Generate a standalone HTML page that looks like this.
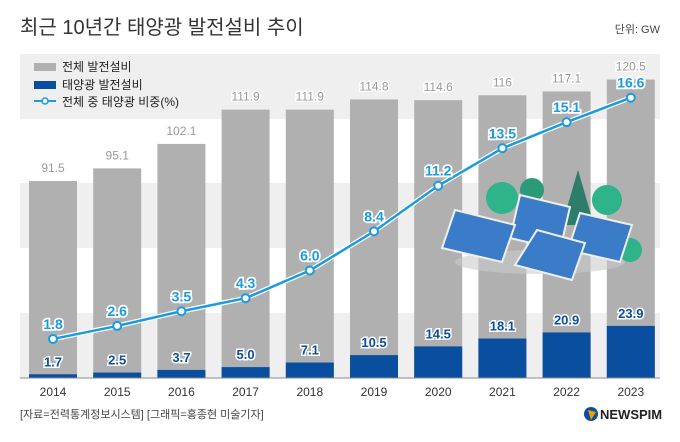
<!DOCTYPE html>
<html><head><meta charset="utf-8"><style>
body{margin:0;background:#fff;}
svg{display:block;font-family:"Liberation Sans","Noto Sans CJK KR",sans-serif;}
</style></head><body>
<svg id="c" width="680" height="442" viewBox="0 0 680 442">
<text x="20" y="34" font-size="20" fill="#333">최근 10년간 태양광 발전설비 추이</text>
<text x="660" y="33" font-size="11" fill="#444" text-anchor="end">단위: GW</text>
<g>
<rect x="20" y="54" width="640" height="65" fill="#efefef"/>
<rect x="20" y="183" width="640" height="65" fill="#efefef"/>
<rect x="20" y="313" width="640" height="65" fill="#efefef"/>
</g>
<g id="bars"></g>
<g id="illus">
<ellipse cx="540" cy="262" rx="85" ry="12" fill="#ccc" opacity="0.6"/>
<circle cx="502" cy="198" r="16" fill="#2fb38b"/><circle cx="532" cy="190" r="12" fill="#2a9a78"/>
<polygon points="578,170 562,225 594,225" fill="#2e7c6a"/>
<circle cx="607" cy="200" r="15" fill="#2fb38b"/><circle cx="630" cy="250" r="12" fill="#2fb38b"/>
<polygon points="520,195 570,207 560,250 510,238" fill="#3a7cc8" stroke="#eee" stroke-width="2"/>
<polygon points="455,210 515,225 502,262 442,248" fill="#3a7cc8" stroke="#eee" stroke-width="2"/>
<polygon points="580,213 632,225 620,262 568,250" fill="#3a7cc8" stroke="#eee" stroke-width="2"/>
<polygon points="537,230 585,243 572,280 515,265" fill="#3a7cc8" stroke="#eee" stroke-width="2"/>
</g>
<g id="line"></g>
<g>
<rect x="34" y="63" width="22" height="8" fill="#b0b0b0"/>
<text x="62" y="71" font-size="12" fill="#222">전체 발전설비</text>
<rect x="34" y="81" width="22" height="8" fill="#0a4ea0"/>
<text x="62" y="89" font-size="12" fill="#222">태양광 발전설비</text>
<line x1="34" y1="101" x2="56" y2="101" stroke="#1a9be0" stroke-width="2"/>
<circle cx="45" cy="101" r="3" fill="#fff" stroke="#1a9be0" stroke-width="1.5"/>
<text x="62" y="106" font-size="12" fill="#222">전체 중 태양광 비중(%)</text>
</g>
<line x1="20" y1="378" x2="660" y2="378" stroke="#888" stroke-width="1"/>
<g id="xl"></g>
<text x="20" y="418" font-size="11" fill="#444">[자료=전력통계정보시스템] [그래픽=홍종현 미술기자]</text>
<g>
<circle cx="591" cy="414" r="7" fill="#0a4ea0"/><path d="M588,410 L596,412 L591,420Z" fill="#f0a000"/>
<text x="600" y="419" font-size="13" font-weight="bold" fill="#222">NEWSPIM</text>
</g>
</svg>
<script>
const years=["2014","2015","2016","2017","2018","2019","2020","2021","2022","2023"];
const totalGW=[91.5,95.1,102.1,111.9,111.9,114.8,114.6,116,117.1,120.5];
const totalLabels=["91.5","95.1","102.1","111.9","111.9","114.8","114.6","116","117.1","120.5"];
const solarGW=[1.7,2.5,3.7,5.0,7.1,10.5,14.5,18.1,20.9,23.9];
const sharePct=[1.8,2.6,3.5,4.3,6.0,8.4,11.2,13.5,15.1,16.6];
const NS="http://www.w3.org/2000/svg";
const xC=i=>53+64.2*i;
const yTotal=v=>118-3.5*(v-109.5);
const ySolar=v=>378-2.18*v;
const yPct=v=>368.3-16.3*v;
function mk(tag,attrs,parent,txt){const e=document.createElementNS(NS,tag);for(const k in attrs)e.setAttribute(k,attrs[k]);if(txt!==undefined)e.textContent=txt;parent.appendChild(e);return e;}
const bars=document.getElementById('bars'),line=document.getElementById('line'),xl=document.getElementById('xl');
years.forEach((y,i)=>{
 const t=yTotal(totalGW[i]);
 const r=mk('rect',{x:xC(i)-24,y:t,width:48,height:378-t,fill:'#b0b0b0'},bars);
 
 
 const tl=mk('text',{x:xC(i),y:t-9,'font-size':12,fill:'#999','text-anchor':'middle',stroke:'#fff','stroke-width':3,'paint-order':'stroke'},bars,totalLabels[i]);
 
 
 const s=ySolar(solarGW[i]);
 const b=mk('rect',{x:xC(i)-24,y:s,width:48,height:378-s,fill:'#0a4ea0'},bars);
 
 
 const sl=mk('text',{x:xC(i),y:s-8,'font-size':13,'font-weight':'bold',fill:'#0a4ea0','text-anchor':'middle',stroke:'#fff','stroke-width':3,'paint-order':'stroke'},bars,solarGW[i].toFixed(1));
 
 
 const x=mk('text',{x:xC(i),y:396,'font-size':12,fill:'#333','text-anchor':'middle'},xl,y);
 
 
});
const pts=sharePct.map((v,i)=>xC(i)+','+yPct(v)).join(' ');
const pl=mk('polyline',{points:pts,fill:'none',stroke:'#fff','stroke-width':5},line);


const pl2=mk('polyline',{points:pts,fill:'none',stroke:'#1a9be0','stroke-width':2.5},line);


sharePct.forEach((v,i)=>{
 const c=mk('circle',{cx:xC(i),cy:yPct(v),r:4,fill:'#fff',stroke:'#1a9be0','stroke-width':2},line);
 
 
 const t=mk('text',{x:xC(i),y:yPct(v)-10,'font-size':14,'font-weight':'bold',fill:'#1a9be0','text-anchor':'middle',stroke:'#fff','stroke-width':3.5,'paint-order':'stroke'},line,v.toFixed(1));
 
 
});
</script>
</body></html>
